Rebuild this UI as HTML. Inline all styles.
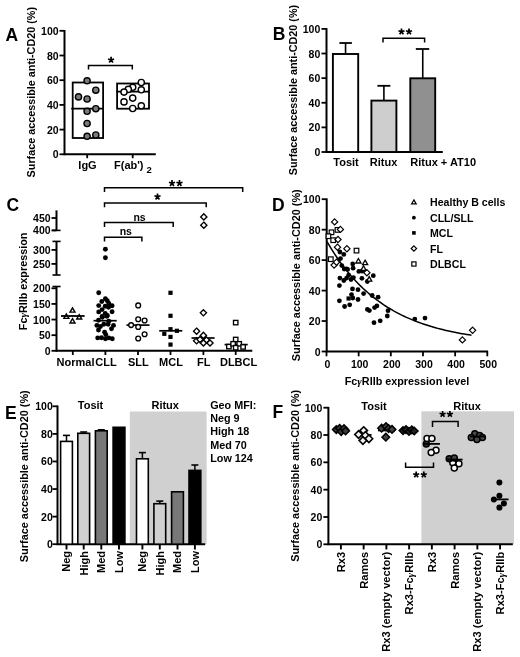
<!DOCTYPE html>
<html><head><meta charset="utf-8"><style>
html,body{margin:0;padding:0;background:#fff;}
svg{display:block;font-family:"Liberation Sans", sans-serif;will-change:transform;filter:blur(0.3px);}
</style></head><body>
<svg width="520" height="657" viewBox="0 0 520 657">
<rect width="520" height="657" fill="#fff"/>
<line x1="64.50" y1="30.00" x2="64.50" y2="155.10" stroke="#000" stroke-width="2.0"/>
<line x1="63.70" y1="154.30" x2="155.80" y2="154.30" stroke="#000" stroke-width="2.0"/>
<line x1="59.50" y1="154.30" x2="64.50" y2="154.30" stroke="#000" stroke-width="1.8"/>
<text x="58.60" y="158.30" font-size="10.5" font-weight="bold" text-anchor="end" >0</text>
<line x1="59.50" y1="129.60" x2="64.50" y2="129.60" stroke="#000" stroke-width="1.8"/>
<text x="58.60" y="133.60" font-size="10.5" font-weight="bold" text-anchor="end" >20</text>
<line x1="59.50" y1="104.90" x2="64.50" y2="104.90" stroke="#000" stroke-width="1.8"/>
<text x="58.60" y="108.90" font-size="10.5" font-weight="bold" text-anchor="end" >40</text>
<line x1="59.50" y1="80.20" x2="64.50" y2="80.20" stroke="#000" stroke-width="1.8"/>
<text x="58.60" y="84.20" font-size="10.5" font-weight="bold" text-anchor="end" >60</text>
<line x1="59.50" y1="55.50" x2="64.50" y2="55.50" stroke="#000" stroke-width="1.8"/>
<text x="58.60" y="59.50" font-size="10.5" font-weight="bold" text-anchor="end" >80</text>
<line x1="59.50" y1="30.80" x2="64.50" y2="30.80" stroke="#000" stroke-width="1.8"/>
<text x="58.60" y="34.80" font-size="10.5" font-weight="bold" text-anchor="end" >100</text>
<line x1="87.20" y1="154.30" x2="87.20" y2="158.20" stroke="#000" stroke-width="1.8"/>
<line x1="132.70" y1="154.30" x2="132.70" y2="158.20" stroke="#000" stroke-width="1.8"/>
<text x="87.50" y="169.00" font-size="11" font-weight="bold" text-anchor="middle" >IgG</text>
<text x="114.00" y="169.00" font-size="11" font-weight="bold" text-anchor="start" >F(ab')</text>
<text x="146.40" y="173.40" font-size="9.5" font-weight="bold" text-anchor="start" >2</text>
<text x="5.60" y="40.90" font-size="17.5" font-weight="bold" text-anchor="start" >A</text>
<text transform="translate(35.40,92.20) rotate(-90)" font-size="10.8" font-weight="bold" text-anchor="middle" >Surface accessible anti-CD20 (%)</text>
<rect x="72.70" y="82.50" width="30.40" height="55.50" fill="none" stroke="#000" stroke-width="1.8"/>
<line x1="71.20" y1="108.70" x2="103.10" y2="108.70" stroke="#000" stroke-width="1.7"/>
<rect x="117.10" y="83.50" width="31.90" height="25.20" fill="none" stroke="#000" stroke-width="1.8"/>
<line x1="116.50" y1="91.70" x2="149.50" y2="91.70" stroke="#000" stroke-width="1.7"/>
<circle cx="87.10" cy="80.80" r="3.1" fill="#7a7a7a" stroke="#000" stroke-width="1.4"/>
<circle cx="95.80" cy="90.20" r="3.1" fill="#7a7a7a" stroke="#000" stroke-width="1.4"/>
<circle cx="78.50" cy="96.90" r="3.1" fill="#7a7a7a" stroke="#000" stroke-width="1.4"/>
<circle cx="87.10" cy="99.00" r="3.1" fill="#7a7a7a" stroke="#000" stroke-width="1.4"/>
<circle cx="95.80" cy="108.70" r="3.1" fill="#7a7a7a" stroke="#000" stroke-width="1.4"/>
<circle cx="87.10" cy="111.30" r="3.1" fill="#7a7a7a" stroke="#000" stroke-width="1.4"/>
<circle cx="87.10" cy="123.50" r="3.1" fill="#7a7a7a" stroke="#000" stroke-width="1.4"/>
<circle cx="87.10" cy="136.30" r="3.1" fill="#7a7a7a" stroke="#000" stroke-width="1.4"/>
<circle cx="95.80" cy="135.00" r="3.1" fill="#7a7a7a" stroke="#000" stroke-width="1.4"/>
<circle cx="141.30" cy="82.50" r="3.1" fill="#fff" stroke="#000" stroke-width="1.4"/>
<circle cx="132.70" cy="87.30" r="3.1" fill="#fff" stroke="#000" stroke-width="1.4"/>
<circle cx="128.30" cy="89.40" r="3.1" fill="#fff" stroke="#000" stroke-width="1.4"/>
<circle cx="141.30" cy="89.80" r="3.1" fill="#fff" stroke="#000" stroke-width="1.4"/>
<circle cx="124.00" cy="92.10" r="3.1" fill="#fff" stroke="#000" stroke-width="1.4"/>
<circle cx="132.70" cy="98.10" r="3.1" fill="#fff" stroke="#000" stroke-width="1.4"/>
<circle cx="124.00" cy="101.90" r="3.1" fill="#fff" stroke="#000" stroke-width="1.4"/>
<circle cx="132.70" cy="108.50" r="3.1" fill="#fff" stroke="#000" stroke-width="1.4"/>
<circle cx="141.30" cy="105.80" r="3.1" fill="#fff" stroke="#000" stroke-width="1.4"/>
<polyline points="88.5,69.6 88.5,65.4 132.3,65.4 132.3,69.6" fill="none" stroke="#000" stroke-width="1.5"/>
<path d="M111.10,60.00L111.10,56.80M111.10,60.00L114.14,59.01M111.10,60.00L112.98,62.59M111.10,60.00L109.22,62.59M111.10,60.00L108.06,59.01" stroke="#000" stroke-width="1.7" stroke-linecap="butt" fill="none"/>
<line x1="326.50" y1="28.10" x2="326.50" y2="152.80" stroke="#000" stroke-width="2.0"/>
<line x1="325.70" y1="152.00" x2="442.80" y2="152.00" stroke="#000" stroke-width="2.0"/>
<line x1="321.50" y1="152.00" x2="326.50" y2="152.00" stroke="#000" stroke-width="1.8"/>
<text x="320.30" y="156.00" font-size="10.5" font-weight="bold" text-anchor="end" >0</text>
<line x1="321.50" y1="127.38" x2="326.50" y2="127.38" stroke="#000" stroke-width="1.8"/>
<text x="320.30" y="131.38" font-size="10.5" font-weight="bold" text-anchor="end" >20</text>
<line x1="321.50" y1="102.76" x2="326.50" y2="102.76" stroke="#000" stroke-width="1.8"/>
<text x="320.30" y="106.76" font-size="10.5" font-weight="bold" text-anchor="end" >40</text>
<line x1="321.50" y1="78.14" x2="326.50" y2="78.14" stroke="#000" stroke-width="1.8"/>
<text x="320.30" y="82.14" font-size="10.5" font-weight="bold" text-anchor="end" >60</text>
<line x1="321.50" y1="53.52" x2="326.50" y2="53.52" stroke="#000" stroke-width="1.8"/>
<text x="320.30" y="57.52" font-size="10.5" font-weight="bold" text-anchor="end" >80</text>
<line x1="321.50" y1="28.90" x2="326.50" y2="28.90" stroke="#000" stroke-width="1.8"/>
<text x="320.30" y="32.90" font-size="10.5" font-weight="bold" text-anchor="end" >100</text>
<text x="272.70" y="39.90" font-size="17.5" font-weight="bold" text-anchor="start" >B</text>
<text transform="translate(296.60,90.10) rotate(-90)" font-size="10.8" font-weight="bold" text-anchor="middle" >Surface accessible anti-CD20 (%)</text>
<line x1="345.55" y1="54.00" x2="345.55" y2="43.00" stroke="#000" stroke-width="1.6"/>
<line x1="339.40" y1="43.00" x2="351.90" y2="43.00" stroke="#000" stroke-width="1.8"/>
<rect x="332.90" y="54.00" width="25.30" height="98.00" fill="#fff" stroke="#000" stroke-width="1.9"/>
<line x1="383.90" y1="100.60" x2="383.90" y2="85.80" stroke="#000" stroke-width="1.6"/>
<line x1="377.40" y1="85.80" x2="390.40" y2="85.80" stroke="#000" stroke-width="1.8"/>
<rect x="371.40" y="100.60" width="25.00" height="51.40" fill="#cecece" stroke="#000" stroke-width="1.9"/>
<line x1="422.75" y1="78.30" x2="422.75" y2="49.00" stroke="#000" stroke-width="1.6"/>
<line x1="415.80" y1="49.00" x2="429.20" y2="49.00" stroke="#000" stroke-width="1.8"/>
<rect x="410.30" y="78.30" width="24.90" height="73.70" fill="#909090" stroke="#000" stroke-width="1.9"/>
<text x="346.00" y="165.50" font-size="11" font-weight="bold" text-anchor="middle" >Tosit</text>
<text x="383.60" y="165.50" font-size="11" font-weight="bold" text-anchor="middle" >Ritux</text>
<text x="410.30" y="165.50" font-size="11" font-weight="bold" text-anchor="start" >Ritux + AT10</text>
<polyline points="383,42.5 383,38.3 424.6,38.3 424.6,42.5" fill="none" stroke="#000" stroke-width="1.5"/>
<path d="M401.50,31.70L401.50,28.50M401.50,31.70L404.54,30.71M401.50,31.70L403.38,34.29M401.50,31.70L399.62,34.29M401.50,31.70L398.46,30.71" stroke="#000" stroke-width="1.7" stroke-linecap="butt" fill="none"/>
<path d="M409.00,31.70L409.00,28.50M409.00,31.70L412.04,30.71M409.00,31.70L410.88,34.29M409.00,31.70L407.12,34.29M409.00,31.70L405.96,30.71" stroke="#000" stroke-width="1.7" stroke-linecap="butt" fill="none"/>
<text x="6.50" y="210.80" font-size="17.5" font-weight="bold" text-anchor="start" >C</text>
<line x1="56.50" y1="210.40" x2="56.50" y2="230.40" stroke="#000" stroke-width="2.0"/>
<line x1="52.20" y1="230.40" x2="60.60" y2="230.40" stroke="#000" stroke-width="1.6"/>
<line x1="56.50" y1="241.40" x2="56.50" y2="275.00" stroke="#000" stroke-width="2.0"/>
<line x1="52.50" y1="241.40" x2="60.60" y2="241.40" stroke="#000" stroke-width="1.6"/>
<line x1="52.50" y1="275.00" x2="60.60" y2="275.00" stroke="#000" stroke-width="1.6"/>
<line x1="56.50" y1="286.50" x2="56.50" y2="351.60" stroke="#000" stroke-width="2.0"/>
<line x1="52.50" y1="286.50" x2="60.60" y2="286.50" stroke="#000" stroke-width="1.6"/>
<line x1="55.70" y1="350.80" x2="252.30" y2="350.80" stroke="#000" stroke-width="2.0"/>
<line x1="51.50" y1="350.80" x2="56.50" y2="350.80" stroke="#000" stroke-width="1.8"/>
<text x="50.60" y="354.80" font-size="10.5" font-weight="bold" text-anchor="end" >0</text>
<line x1="51.50" y1="335.18" x2="56.50" y2="335.18" stroke="#000" stroke-width="1.8"/>
<text x="50.60" y="339.18" font-size="10.5" font-weight="bold" text-anchor="end" >50</text>
<line x1="51.50" y1="319.55" x2="56.50" y2="319.55" stroke="#000" stroke-width="1.8"/>
<text x="50.60" y="323.55" font-size="10.5" font-weight="bold" text-anchor="end" >100</text>
<line x1="51.50" y1="303.93" x2="56.50" y2="303.93" stroke="#000" stroke-width="1.8"/>
<text x="50.60" y="307.93" font-size="10.5" font-weight="bold" text-anchor="end" >150</text>
<line x1="51.50" y1="288.30" x2="56.50" y2="288.30" stroke="#000" stroke-width="1.8"/>
<text x="50.60" y="292.30" font-size="10.5" font-weight="bold" text-anchor="end" >200</text>
<line x1="51.50" y1="263.90" x2="56.50" y2="263.90" stroke="#000" stroke-width="1.8"/>
<text x="50.60" y="267.90" font-size="10.5" font-weight="bold" text-anchor="end" >250</text>
<line x1="51.50" y1="249.90" x2="56.50" y2="249.90" stroke="#000" stroke-width="1.8"/>
<text x="50.60" y="253.90" font-size="10.5" font-weight="bold" text-anchor="end" >300</text>
<line x1="51.50" y1="230.40" x2="56.50" y2="230.40" stroke="#000" stroke-width="1.8"/>
<text x="50.60" y="234.40" font-size="10.5" font-weight="bold" text-anchor="end" >400</text>
<line x1="51.50" y1="218.00" x2="56.50" y2="218.00" stroke="#000" stroke-width="1.8"/>
<text x="50.60" y="222.00" font-size="10.5" font-weight="bold" text-anchor="end" >450</text>
<text transform="translate(26.80,281.40) rotate(-90)" font-size="10.8" font-weight="bold" text-anchor="middle" >Fc<tspan font-family="Liberation Serif" font-style="italic">&#947;</tspan>RIIb expression</text>
<line x1="72.80" y1="350.80" x2="72.80" y2="355.00" stroke="#000" stroke-width="1.8"/>
<line x1="105.40" y1="350.80" x2="105.40" y2="355.00" stroke="#000" stroke-width="1.8"/>
<line x1="138.00" y1="350.80" x2="138.00" y2="355.00" stroke="#000" stroke-width="1.8"/>
<line x1="170.50" y1="350.80" x2="170.50" y2="355.00" stroke="#000" stroke-width="1.8"/>
<line x1="203.40" y1="350.80" x2="203.40" y2="355.00" stroke="#000" stroke-width="1.8"/>
<line x1="235.70" y1="350.80" x2="235.70" y2="355.00" stroke="#000" stroke-width="1.8"/>
<text x="75.50" y="365.80" font-size="11" font-weight="bold" text-anchor="middle" >Normal</text>
<text x="106.00" y="365.80" font-size="11" font-weight="bold" text-anchor="middle" >CLL</text>
<text x="138.40" y="365.80" font-size="11" font-weight="bold" text-anchor="middle" >SLL</text>
<text x="171.00" y="365.80" font-size="11" font-weight="bold" text-anchor="middle" >MCL</text>
<text x="203.80" y="365.80" font-size="11" font-weight="bold" text-anchor="middle" >FL</text>
<text x="238.60" y="365.80" font-size="11" font-weight="bold" text-anchor="middle" >DLBCL</text>
<polyline points="104.5,192.0 104.5,187.7 242.7,187.7 242.7,192.0" fill="none" stroke="#000" stroke-width="1.5"/>
<polyline points="104.5,207.20000000000002 104.5,202.9 206.2,202.9 206.2,207.20000000000002" fill="none" stroke="#000" stroke-width="1.5"/>
<polyline points="104.5,226.9 104.5,222.6 173.2,222.6 173.2,226.9" fill="none" stroke="#000" stroke-width="1.5"/>
<polyline points="104.5,241.5 104.5,237.2 141.9,237.2 141.9,241.5" fill="none" stroke="#000" stroke-width="1.5"/>
<path d="M172.00,183.30L172.00,180.10M172.00,183.30L175.04,182.31M172.00,183.30L173.88,185.89M172.00,183.30L170.12,185.89M172.00,183.30L168.96,182.31" stroke="#000" stroke-width="1.7" stroke-linecap="butt" fill="none"/>
<path d="M179.50,183.30L179.50,180.10M179.50,183.30L182.54,182.31M179.50,183.30L181.38,185.89M179.50,183.30L177.62,185.89M179.50,183.30L176.46,182.31" stroke="#000" stroke-width="1.7" stroke-linecap="butt" fill="none"/>
<path d="M157.50,196.80L157.50,193.60M157.50,196.80L160.54,195.81M157.50,196.80L159.38,199.39M157.50,196.80L155.62,199.39M157.50,196.80L154.46,195.81" stroke="#000" stroke-width="1.7" stroke-linecap="butt" fill="none"/>
<text x="139.60" y="220.80" font-size="10.5" font-weight="bold" text-anchor="middle" >ns</text>
<text x="125.80" y="234.80" font-size="10.5" font-weight="bold" text-anchor="middle" >ns</text>
<line x1="61.00" y1="316.00" x2="84.60" y2="316.00" stroke="#000" stroke-width="1.8"/>
<polygon points="72.50,307.79 75.00,312.14 70.00,312.14" fill="none" stroke="#000" stroke-width="1.4" stroke-linejoin="miter"/>
<polygon points="66.40,313.99 68.90,318.34 63.90,318.34" fill="none" stroke="#000" stroke-width="1.4" stroke-linejoin="miter"/>
<polygon points="79.20,314.59 81.70,318.94 76.70,318.94" fill="none" stroke="#000" stroke-width="1.4" stroke-linejoin="miter"/>
<polygon points="72.50,318.59 75.00,322.94 70.00,322.94" fill="none" stroke="#000" stroke-width="1.4" stroke-linejoin="miter"/>
<circle cx="105.40" cy="249.20" r="2.45" fill="#000" stroke="none" stroke-width="1.0"/>
<circle cx="105.40" cy="257.70" r="2.45" fill="#000" stroke="none" stroke-width="1.0"/>
<circle cx="98.70" cy="292.70" r="2.45" fill="#000" stroke="none" stroke-width="1.0"/>
<circle cx="105.40" cy="298.80" r="2.45" fill="#000" stroke="none" stroke-width="1.0"/>
<circle cx="101.80" cy="301.50" r="2.45" fill="#000" stroke="none" stroke-width="1.0"/>
<circle cx="107.30" cy="300.80" r="2.45" fill="#000" stroke="none" stroke-width="1.0"/>
<circle cx="108.80" cy="303.50" r="2.45" fill="#000" stroke="none" stroke-width="1.0"/>
<circle cx="98.70" cy="305.60" r="2.45" fill="#000" stroke="none" stroke-width="1.0"/>
<circle cx="105.20" cy="306.20" r="2.45" fill="#000" stroke="none" stroke-width="1.0"/>
<circle cx="112.10" cy="305.80" r="2.45" fill="#000" stroke="none" stroke-width="1.0"/>
<circle cx="108.50" cy="307.30" r="2.45" fill="#000" stroke="none" stroke-width="1.0"/>
<circle cx="102.10" cy="309.60" r="2.45" fill="#000" stroke="none" stroke-width="1.0"/>
<circle cx="98.70" cy="311.90" r="2.45" fill="#000" stroke="none" stroke-width="1.0"/>
<circle cx="112.10" cy="311.80" r="2.45" fill="#000" stroke="none" stroke-width="1.0"/>
<circle cx="105.20" cy="313.50" r="2.45" fill="#000" stroke="none" stroke-width="1.0"/>
<circle cx="107.30" cy="315.40" r="2.45" fill="#000" stroke="none" stroke-width="1.0"/>
<circle cx="102.10" cy="316.50" r="2.45" fill="#000" stroke="none" stroke-width="1.0"/>
<circle cx="98.50" cy="320.20" r="2.45" fill="#000" stroke="none" stroke-width="1.0"/>
<circle cx="102.30" cy="317.30" r="2.45" fill="#000" stroke="none" stroke-width="1.0"/>
<circle cx="106.90" cy="316.20" r="2.45" fill="#000" stroke="none" stroke-width="1.0"/>
<circle cx="108.80" cy="321.20" r="2.45" fill="#000" stroke="none" stroke-width="1.0"/>
<circle cx="96.90" cy="325.40" r="2.45" fill="#000" stroke="none" stroke-width="1.0"/>
<circle cx="100.40" cy="326.50" r="2.45" fill="#000" stroke="none" stroke-width="1.0"/>
<circle cx="103.80" cy="324.20" r="2.45" fill="#000" stroke="none" stroke-width="1.0"/>
<circle cx="108.10" cy="324.20" r="2.45" fill="#000" stroke="none" stroke-width="1.0"/>
<circle cx="113.50" cy="325.40" r="2.45" fill="#000" stroke="none" stroke-width="1.0"/>
<circle cx="111.50" cy="328.80" r="2.45" fill="#000" stroke="none" stroke-width="1.0"/>
<circle cx="98.50" cy="330.00" r="2.45" fill="#000" stroke="none" stroke-width="1.0"/>
<circle cx="104.60" cy="332.30" r="2.45" fill="#000" stroke="none" stroke-width="1.0"/>
<circle cx="105.80" cy="334.60" r="2.45" fill="#000" stroke="none" stroke-width="1.0"/>
<circle cx="97.70" cy="337.90" r="2.45" fill="#000" stroke="none" stroke-width="1.0"/>
<circle cx="101.50" cy="337.70" r="2.45" fill="#000" stroke="none" stroke-width="1.0"/>
<circle cx="105.40" cy="338.80" r="2.45" fill="#000" stroke="none" stroke-width="1.0"/>
<circle cx="108.80" cy="337.90" r="2.45" fill="#000" stroke="none" stroke-width="1.0"/>
<circle cx="112.30" cy="338.80" r="2.45" fill="#000" stroke="none" stroke-width="1.0"/>
<line x1="93.50" y1="320.70" x2="116.70" y2="320.70" stroke="#000" stroke-width="1.7"/>
<line x1="126.50" y1="325.10" x2="149.50" y2="325.10" stroke="#000" stroke-width="1.7"/>
<circle cx="138.20" cy="305.40" r="2.4" fill="#fff" stroke="#000" stroke-width="1.35"/>
<circle cx="138.20" cy="319.20" r="2.4" fill="#fff" stroke="#000" stroke-width="1.35"/>
<circle cx="144.60" cy="320.50" r="2.4" fill="#fff" stroke="#000" stroke-width="1.35"/>
<circle cx="138.20" cy="326.90" r="2.4" fill="#fff" stroke="#000" stroke-width="1.35"/>
<circle cx="131.10" cy="325.10" r="2.4" fill="#fff" stroke="#000" stroke-width="1.35"/>
<circle cx="144.60" cy="334.30" r="2.4" fill="#fff" stroke="#000" stroke-width="1.35"/>
<circle cx="138.20" cy="338.50" r="2.4" fill="#fff" stroke="#000" stroke-width="1.35"/>
<line x1="159.20" y1="330.80" x2="182.30" y2="330.80" stroke="#000" stroke-width="1.7"/>
<rect x="168.40" y="290.70" width="4.2" height="4.2" fill="#000" stroke="none" stroke-width="1.1"/>
<rect x="168.40" y="313.70" width="4.2" height="4.2" fill="#000" stroke="none" stroke-width="1.1"/>
<rect x="168.40" y="327.10" width="4.2" height="4.2" fill="#000" stroke="none" stroke-width="1.1"/>
<rect x="162.20" y="331.70" width="4.2" height="4.2" fill="#000" stroke="none" stroke-width="1.1"/>
<rect x="174.80" y="328.70" width="4.2" height="4.2" fill="#000" stroke="none" stroke-width="1.1"/>
<rect x="168.40" y="334.80" width="4.2" height="4.2" fill="#000" stroke="none" stroke-width="1.1"/>
<rect x="168.40" y="342.50" width="4.2" height="4.2" fill="#000" stroke="none" stroke-width="1.1"/>
<line x1="191.50" y1="338.00" x2="214.60" y2="338.00" stroke="#000" stroke-width="1.7"/>
<polygon points="203.80,213.80 206.90,216.90 203.80,220.00 200.70,216.90" fill="#fff" stroke="#000" stroke-width="1.35"/>
<polygon points="203.80,222.10 206.90,225.20 203.80,228.30 200.70,225.20" fill="#fff" stroke="#000" stroke-width="1.35"/>
<polygon points="203.40,309.70 206.50,312.80 203.40,315.90 200.30,312.80" fill="#fff" stroke="#000" stroke-width="1.35"/>
<polygon points="196.60,328.10 199.70,331.20 196.60,334.30 193.50,331.20" fill="#fff" stroke="#000" stroke-width="1.35"/>
<polygon points="203.40,332.30 206.50,335.40 203.40,338.50 200.30,335.40" fill="#fff" stroke="#000" stroke-width="1.35"/>
<polygon points="196.60,337.70 199.70,340.80 196.60,343.90 193.50,340.80" fill="#fff" stroke="#000" stroke-width="1.35"/>
<polygon points="200.00,336.40 203.10,339.50 200.00,342.60 196.90,339.50" fill="#fff" stroke="#000" stroke-width="1.35"/>
<polygon points="206.50,336.90 209.60,340.00 206.50,343.10 203.40,340.00" fill="#fff" stroke="#000" stroke-width="1.35"/>
<polygon points="203.40,339.90 206.50,343.00 203.40,346.10 200.30,343.00" fill="#fff" stroke="#000" stroke-width="1.35"/>
<polygon points="210.00,339.90 213.10,343.00 210.00,346.10 206.90,343.00" fill="#fff" stroke="#000" stroke-width="1.35"/>
<line x1="224.60" y1="344.60" x2="247.70" y2="344.60" stroke="#000" stroke-width="1.7"/>
<rect x="233.50" y="320.40" width="4.4" height="4.4" fill="#fff" stroke="#000" stroke-width="1.35"/>
<rect x="233.50" y="337.30" width="4.4" height="4.4" fill="#fff" stroke="#000" stroke-width="1.35"/>
<rect x="226.70" y="344.40" width="4.4" height="4.4" fill="#fff" stroke="#000" stroke-width="1.35"/>
<rect x="230.90" y="341.60" width="4.4" height="4.4" fill="#fff" stroke="#000" stroke-width="1.35"/>
<rect x="237.00" y="341.60" width="4.4" height="4.4" fill="#fff" stroke="#000" stroke-width="1.35"/>
<rect x="240.90" y="344.70" width="4.4" height="4.4" fill="#fff" stroke="#000" stroke-width="1.35"/>
<rect x="233.50" y="345.50" width="4.4" height="4.4" fill="#fff" stroke="#000" stroke-width="1.35"/>
<line x1="326.70" y1="198.40" x2="326.70" y2="352.30" stroke="#000" stroke-width="2.0"/>
<line x1="325.90" y1="351.50" x2="488.10" y2="351.50" stroke="#000" stroke-width="2.0"/>
<line x1="321.70" y1="351.50" x2="326.70" y2="351.50" stroke="#000" stroke-width="1.8"/>
<text x="320.50" y="355.50" font-size="10.5" font-weight="bold" text-anchor="end" >0</text>
<line x1="321.70" y1="321.04" x2="326.70" y2="321.04" stroke="#000" stroke-width="1.8"/>
<text x="320.50" y="325.04" font-size="10.5" font-weight="bold" text-anchor="end" >20</text>
<line x1="321.70" y1="290.58" x2="326.70" y2="290.58" stroke="#000" stroke-width="1.8"/>
<text x="320.50" y="294.58" font-size="10.5" font-weight="bold" text-anchor="end" >40</text>
<line x1="321.70" y1="260.12" x2="326.70" y2="260.12" stroke="#000" stroke-width="1.8"/>
<text x="320.50" y="264.12" font-size="10.5" font-weight="bold" text-anchor="end" >60</text>
<line x1="321.70" y1="229.66" x2="326.70" y2="229.66" stroke="#000" stroke-width="1.8"/>
<text x="320.50" y="233.66" font-size="10.5" font-weight="bold" text-anchor="end" >80</text>
<line x1="321.70" y1="199.20" x2="326.70" y2="199.20" stroke="#000" stroke-width="1.8"/>
<text x="320.50" y="203.20" font-size="10.5" font-weight="bold" text-anchor="end" >100</text>
<line x1="326.50" y1="351.50" x2="326.50" y2="356.30" stroke="#000" stroke-width="1.8"/>
<text x="327.50" y="368.00" font-size="10.5" font-weight="bold" text-anchor="middle" >0</text>
<line x1="358.66" y1="351.50" x2="358.66" y2="356.30" stroke="#000" stroke-width="1.8"/>
<text x="359.66" y="368.00" font-size="10.5" font-weight="bold" text-anchor="middle" >100</text>
<line x1="390.82" y1="351.50" x2="390.82" y2="356.30" stroke="#000" stroke-width="1.8"/>
<text x="391.82" y="368.00" font-size="10.5" font-weight="bold" text-anchor="middle" >200</text>
<line x1="422.98" y1="351.50" x2="422.98" y2="356.30" stroke="#000" stroke-width="1.8"/>
<text x="423.98" y="368.00" font-size="10.5" font-weight="bold" text-anchor="middle" >300</text>
<line x1="455.14" y1="351.50" x2="455.14" y2="356.30" stroke="#000" stroke-width="1.8"/>
<text x="456.14" y="368.00" font-size="10.5" font-weight="bold" text-anchor="middle" >400</text>
<line x1="487.30" y1="351.50" x2="487.30" y2="356.30" stroke="#000" stroke-width="1.8"/>
<text x="488.30" y="368.00" font-size="10.5" font-weight="bold" text-anchor="middle" >500</text>
<text x="407.00" y="384.80" font-size="10.8" font-weight="bold" text-anchor="middle" >Fc<tspan font-family="Liberation Serif" font-style="italic">&#947;</tspan>RIIb expression level</text>
<text x="272.10" y="210.80" font-size="17.5" font-weight="bold" text-anchor="start" >D</text>
<text transform="translate(299.50,275.20) rotate(-90)" font-size="10.9" font-weight="bold" text-anchor="middle" >Surface accessible anti-CD20 (%)</text>
<polygon points="413.90,199.90 416.20,203.90 411.60,203.90" fill="none" stroke="#000" stroke-width="1.2" stroke-linejoin="miter"/>
<circle cx="413.90" cy="217.70" r="1.9" fill="#000" stroke="none" stroke-width="1.0"/>
<rect x="412.10" y="231.10" width="3.6" height="3.6" fill="#000" stroke="none" stroke-width="1.1"/>
<polygon points="413.90,245.80 416.60,248.50 413.90,251.20 411.20,248.50" fill="#fff" stroke="#000" stroke-width="1.2"/>
<rect x="411.80" y="261.90" width="4.2" height="4.2" fill="#fff" stroke="#000" stroke-width="1.2"/>
<text x="430.00" y="206.00" font-size="10.6" font-weight="bold" text-anchor="start" >Healthy B cells</text>
<text x="430.00" y="221.70" font-size="10.6" font-weight="bold" text-anchor="start" >CLL/SLL</text>
<text x="430.00" y="236.90" font-size="10.6" font-weight="bold" text-anchor="start" >MCL</text>
<text x="430.00" y="252.50" font-size="10.6" font-weight="bold" text-anchor="start" >FL</text>
<text x="430.00" y="268.00" font-size="10.6" font-weight="bold" text-anchor="start" >DLBCL</text>
<polyline points="327.00,241.66 329.41,245.74 331.82,249.66 334.23,253.42 336.63,257.03 339.04,260.50 341.45,263.83 343.86,267.03 346.27,270.10 348.68,273.04 351.08,275.87 353.49,278.59 355.90,281.20 358.31,283.71 360.72,286.12 363.12,288.43 365.53,290.65 367.94,292.78 370.35,294.82 372.76,296.79 375.17,298.67 377.57,300.48 379.98,302.22 382.39,303.89 384.80,305.50 387.21,307.03 389.62,308.51 392.02,309.93 394.43,311.30 396.84,312.60 399.25,313.86 401.66,315.07 404.07,316.23 406.48,317.34 408.88,318.41 411.29,319.43 413.70,320.42 416.11,321.36 418.52,322.27 420.93,323.14 423.33,323.98 425.74,324.79 428.15,325.56 430.56,326.30 432.97,327.01 435.38,327.69 437.78,328.35 440.19,328.98 442.60,329.59 445.01,330.17 447.42,330.73 449.82,331.26 452.23,331.78 454.64,332.27 457.05,332.74 459.46,333.20 461.87,333.64 464.27,334.06 466.68,334.46 469.09,334.85 471.50,335.22" fill="none" stroke="#000" stroke-width="1.5"/>
<circle cx="339.90" cy="252.00" r="2.4" fill="#000" stroke="none" stroke-width="1.0"/>
<circle cx="343.80" cy="254.40" r="2.4" fill="#000" stroke="none" stroke-width="1.0"/>
<circle cx="340.50" cy="258.60" r="2.4" fill="#000" stroke="none" stroke-width="1.0"/>
<circle cx="341.80" cy="265.60" r="2.4" fill="#000" stroke="none" stroke-width="1.0"/>
<circle cx="344.20" cy="269.00" r="2.4" fill="#000" stroke="none" stroke-width="1.0"/>
<circle cx="347.60" cy="269.40" r="2.4" fill="#000" stroke="none" stroke-width="1.0"/>
<circle cx="348.60" cy="275.20" r="2.4" fill="#000" stroke="none" stroke-width="1.0"/>
<circle cx="339.90" cy="278.10" r="2.4" fill="#000" stroke="none" stroke-width="1.0"/>
<circle cx="343.80" cy="280.50" r="2.4" fill="#000" stroke="none" stroke-width="1.0"/>
<circle cx="346.60" cy="278.10" r="2.4" fill="#000" stroke="none" stroke-width="1.0"/>
<circle cx="351.00" cy="279.50" r="2.4" fill="#000" stroke="none" stroke-width="1.0"/>
<circle cx="353.40" cy="277.60" r="2.4" fill="#000" stroke="none" stroke-width="1.0"/>
<circle cx="339.40" cy="285.60" r="2.4" fill="#000" stroke="none" stroke-width="1.0"/>
<circle cx="352.70" cy="263.90" r="2.4" fill="#000" stroke="none" stroke-width="1.0"/>
<circle cx="353.10" cy="268.20" r="2.4" fill="#000" stroke="none" stroke-width="1.0"/>
<circle cx="358.80" cy="271.40" r="2.4" fill="#000" stroke="none" stroke-width="1.0"/>
<circle cx="362.20" cy="271.20" r="2.4" fill="#000" stroke="none" stroke-width="1.0"/>
<circle cx="361.90" cy="278.30" r="2.4" fill="#000" stroke="none" stroke-width="1.0"/>
<circle cx="373.30" cy="275.70" r="2.4" fill="#000" stroke="none" stroke-width="1.0"/>
<circle cx="367.30" cy="281.50" r="2.4" fill="#000" stroke="none" stroke-width="1.0"/>
<circle cx="352.50" cy="288.90" r="2.4" fill="#000" stroke="none" stroke-width="1.0"/>
<circle cx="358.00" cy="289.70" r="2.4" fill="#000" stroke="none" stroke-width="1.0"/>
<circle cx="363.60" cy="293.60" r="2.4" fill="#000" stroke="none" stroke-width="1.0"/>
<circle cx="351.50" cy="294.60" r="2.4" fill="#000" stroke="none" stroke-width="1.0"/>
<circle cx="352.80" cy="298.00" r="2.4" fill="#000" stroke="none" stroke-width="1.0"/>
<circle cx="358.00" cy="299.50" r="2.4" fill="#000" stroke="none" stroke-width="1.0"/>
<circle cx="339.40" cy="300.80" r="2.4" fill="#000" stroke="none" stroke-width="1.0"/>
<circle cx="372.20" cy="295.50" r="2.4" fill="#000" stroke="none" stroke-width="1.0"/>
<circle cx="349.70" cy="304.80" r="2.4" fill="#000" stroke="none" stroke-width="1.0"/>
<circle cx="344.60" cy="306.50" r="2.4" fill="#000" stroke="none" stroke-width="1.0"/>
<circle cx="378.10" cy="297.20" r="2.4" fill="#000" stroke="none" stroke-width="1.0"/>
<circle cx="367.40" cy="309.40" r="2.4" fill="#000" stroke="none" stroke-width="1.0"/>
<circle cx="369.40" cy="310.60" r="2.4" fill="#000" stroke="none" stroke-width="1.0"/>
<circle cx="374.60" cy="307.60" r="2.4" fill="#000" stroke="none" stroke-width="1.0"/>
<circle cx="376.90" cy="305.90" r="2.4" fill="#000" stroke="none" stroke-width="1.0"/>
<circle cx="374.00" cy="322.70" r="2.4" fill="#000" stroke="none" stroke-width="1.0"/>
<circle cx="380.20" cy="320.80" r="2.4" fill="#000" stroke="none" stroke-width="1.0"/>
<circle cx="388.00" cy="310.70" r="2.4" fill="#000" stroke="none" stroke-width="1.0"/>
<circle cx="387.30" cy="316.00" r="2.4" fill="#000" stroke="none" stroke-width="1.0"/>
<circle cx="414.80" cy="319.10" r="2.4" fill="#000" stroke="none" stroke-width="1.0"/>
<circle cx="425.00" cy="318.10" r="2.4" fill="#000" stroke="none" stroke-width="1.0"/>
<circle cx="346.50" cy="268.80" r="2.4" fill="#000" stroke="none" stroke-width="1.0"/>
<rect x="346.50" y="296.40" width="4.2" height="4.2" fill="#000" stroke="none" stroke-width="1.1"/>
<rect x="329.20" y="230.00" width="4.6" height="4.6" fill="#fff" stroke="#000" stroke-width="1.2"/>
<rect x="335.20" y="227.60" width="4.6" height="4.6" fill="#fff" stroke="#000" stroke-width="1.2"/>
<rect x="326.10" y="233.90" width="4.6" height="4.6" fill="#fff" stroke="#000" stroke-width="1.2"/>
<rect x="330.90" y="237.90" width="4.6" height="4.6" fill="#fff" stroke="#000" stroke-width="1.2"/>
<rect x="354.20" y="248.30" width="4.6" height="4.6" fill="#fff" stroke="#000" stroke-width="1.2"/>
<rect x="328.50" y="256.90" width="4.6" height="4.6" fill="#fff" stroke="#000" stroke-width="1.2"/>
<polygon points="334.60,218.80 337.70,221.90 334.60,225.00 331.50,221.90" fill="#fff" stroke="#000" stroke-width="1.2"/>
<polygon points="340.40,226.30 343.50,229.40 340.40,232.50 337.30,229.40" fill="#fff" stroke="#000" stroke-width="1.2"/>
<polygon points="338.00,236.40 341.10,239.50 338.00,242.60 334.90,239.50" fill="#fff" stroke="#000" stroke-width="1.2"/>
<polygon points="337.50,244.10 340.60,247.20 337.50,250.30 334.40,247.20" fill="#fff" stroke="#000" stroke-width="1.2"/>
<polygon points="346.90,245.60 350.00,248.70 346.90,251.80 343.80,248.70" fill="#fff" stroke="#000" stroke-width="1.2"/>
<polygon points="334.10,262.00 337.20,265.10 334.10,268.20 331.00,265.10" fill="#fff" stroke="#000" stroke-width="1.2"/>
<polygon points="336.50,259.10 339.60,262.20 336.50,265.30 333.40,262.20" fill="#fff" stroke="#000" stroke-width="1.2"/>
<polygon points="366.90,269.60 370.00,272.70 366.90,275.80 363.80,272.70" fill="#fff" stroke="#000" stroke-width="1.2"/>
<polygon points="462.40,336.80 465.50,339.90 462.40,343.00 459.30,339.90" fill="#fff" stroke="#000" stroke-width="1.2"/>
<polygon points="472.60,327.20 475.70,330.30 472.60,333.40 469.50,330.30" fill="#fff" stroke="#000" stroke-width="1.2"/>
<polygon points="358.40,258.49 361.00,263.01 355.80,263.01" fill="#fff" stroke="#000" stroke-width="1.3" stroke-linejoin="miter"/>
<polygon points="365.10,260.19 367.70,264.71 362.50,264.71" fill="#fff" stroke="#000" stroke-width="1.3" stroke-linejoin="miter"/>
<polygon points="363.50,265.79 366.10,270.31 360.90,270.31" fill="#fff" stroke="#000" stroke-width="1.3" stroke-linejoin="miter"/>
<polygon points="369.20,276.59 371.80,281.11 366.60,281.11" fill="#fff" stroke="#000" stroke-width="1.3" stroke-linejoin="miter"/>
<rect x="129.8" y="411.5" width="76.8" height="132.7" fill="#d0d0d0"/>
<line x1="57.50" y1="405.50" x2="57.50" y2="545.00" stroke="#000" stroke-width="2.0"/>
<line x1="56.70" y1="544.20" x2="205.20" y2="544.20" stroke="#000" stroke-width="2.0"/>
<line x1="52.50" y1="544.20" x2="57.50" y2="544.20" stroke="#000" stroke-width="1.8"/>
<text x="52.80" y="548.20" font-size="10.5" font-weight="bold" text-anchor="end" >0</text>
<line x1="52.50" y1="516.62" x2="57.50" y2="516.62" stroke="#000" stroke-width="1.8"/>
<text x="52.80" y="520.62" font-size="10.5" font-weight="bold" text-anchor="end" >20</text>
<line x1="52.50" y1="489.04" x2="57.50" y2="489.04" stroke="#000" stroke-width="1.8"/>
<text x="52.80" y="493.04" font-size="10.5" font-weight="bold" text-anchor="end" >40</text>
<line x1="52.50" y1="461.46" x2="57.50" y2="461.46" stroke="#000" stroke-width="1.8"/>
<text x="52.80" y="465.46" font-size="10.5" font-weight="bold" text-anchor="end" >60</text>
<line x1="52.50" y1="433.88" x2="57.50" y2="433.88" stroke="#000" stroke-width="1.8"/>
<text x="52.80" y="437.88" font-size="10.5" font-weight="bold" text-anchor="end" >80</text>
<line x1="52.50" y1="406.30" x2="57.50" y2="406.30" stroke="#000" stroke-width="1.8"/>
<text x="52.80" y="410.30" font-size="10.5" font-weight="bold" text-anchor="end" >100</text>
<text x="5.00" y="418.80" font-size="17.5" font-weight="bold" text-anchor="start" >E</text>
<text transform="translate(28.10,476.20) rotate(-90)" font-size="10.9" font-weight="bold" text-anchor="middle" >Surface accessible anti-CD20 (%)</text>
<line x1="66.50" y1="441.40" x2="66.50" y2="435.40" stroke="#000" stroke-width="1.5"/>
<line x1="63.00" y1="435.40" x2="70.00" y2="435.40" stroke="#000" stroke-width="1.6"/>
<rect x="60.60" y="441.40" width="11.80" height="102.80" fill="#fff" stroke="#000" stroke-width="1.6"/>
<line x1="83.70" y1="433.30" x2="83.70" y2="432.00" stroke="#000" stroke-width="1.5"/>
<line x1="80.20" y1="432.00" x2="87.20" y2="432.00" stroke="#000" stroke-width="1.6"/>
<rect x="77.80" y="433.30" width="11.80" height="110.90" fill="#d0d0d0" stroke="#000" stroke-width="1.6"/>
<line x1="101.30" y1="430.80" x2="101.30" y2="429.80" stroke="#000" stroke-width="1.5"/>
<line x1="97.80" y1="429.80" x2="104.80" y2="429.80" stroke="#000" stroke-width="1.6"/>
<rect x="95.40" y="430.80" width="11.80" height="113.40" fill="#787878" stroke="#000" stroke-width="1.6"/>
<rect x="113.10" y="427.30" width="11.80" height="116.90" fill="#000" stroke="#000" stroke-width="1.6"/>
<line x1="142.40" y1="458.80" x2="142.40" y2="452.60" stroke="#000" stroke-width="1.5"/>
<line x1="138.90" y1="452.60" x2="145.90" y2="452.60" stroke="#000" stroke-width="1.6"/>
<rect x="136.50" y="458.80" width="11.80" height="85.40" fill="#fff" stroke="#000" stroke-width="1.6"/>
<line x1="159.80" y1="503.70" x2="159.80" y2="501.10" stroke="#000" stroke-width="1.5"/>
<line x1="156.30" y1="501.10" x2="163.30" y2="501.10" stroke="#000" stroke-width="1.6"/>
<rect x="153.90" y="503.70" width="11.80" height="40.50" fill="#d0d0d0" stroke="#000" stroke-width="1.6"/>
<rect x="171.60" y="491.80" width="11.80" height="52.40" fill="#787878" stroke="#000" stroke-width="1.6"/>
<line x1="194.90" y1="470.40" x2="194.90" y2="465.00" stroke="#000" stroke-width="1.5"/>
<line x1="191.40" y1="465.00" x2="198.40" y2="465.00" stroke="#000" stroke-width="1.6"/>
<rect x="189.00" y="470.40" width="11.80" height="73.80" fill="#000" stroke="#000" stroke-width="1.6"/>
<line x1="66.50" y1="544.20" x2="66.50" y2="549.50" stroke="#000" stroke-width="1.9"/>
<line x1="83.70" y1="544.20" x2="83.70" y2="549.50" stroke="#000" stroke-width="1.9"/>
<line x1="101.30" y1="544.20" x2="101.30" y2="549.50" stroke="#000" stroke-width="1.9"/>
<line x1="119.00" y1="544.20" x2="119.00" y2="549.50" stroke="#000" stroke-width="1.9"/>
<line x1="142.40" y1="544.20" x2="142.40" y2="549.50" stroke="#000" stroke-width="1.9"/>
<line x1="159.80" y1="544.20" x2="159.80" y2="549.50" stroke="#000" stroke-width="1.9"/>
<line x1="177.50" y1="544.20" x2="177.50" y2="549.50" stroke="#000" stroke-width="1.9"/>
<line x1="194.90" y1="544.20" x2="194.90" y2="549.50" stroke="#000" stroke-width="1.9"/>
<text transform="translate(70.30,551.00) rotate(-90)" font-size="11" font-weight="bold" text-anchor="end" >Neg</text>
<text transform="translate(87.50,551.00) rotate(-90)" font-size="11" font-weight="bold" text-anchor="end" >High</text>
<text transform="translate(105.10,551.00) rotate(-90)" font-size="11" font-weight="bold" text-anchor="end" >Med</text>
<text transform="translate(122.80,551.00) rotate(-90)" font-size="11" font-weight="bold" text-anchor="end" >Low</text>
<text transform="translate(146.20,551.00) rotate(-90)" font-size="11" font-weight="bold" text-anchor="end" >Neg</text>
<text transform="translate(163.60,551.00) rotate(-90)" font-size="11" font-weight="bold" text-anchor="end" >High</text>
<text transform="translate(181.30,551.00) rotate(-90)" font-size="11" font-weight="bold" text-anchor="end" >Med</text>
<text transform="translate(198.70,551.00) rotate(-90)" font-size="11" font-weight="bold" text-anchor="end" >Low</text>
<text x="90.50" y="409.00" font-size="11" font-weight="bold" text-anchor="middle" >Tosit</text>
<text x="165.20" y="409.00" font-size="11" font-weight="bold" text-anchor="middle" >Ritux</text>
<text x="210.20" y="408.80" font-size="10.8" font-weight="bold" text-anchor="start" >Geo MFI:</text>
<text x="210.20" y="422.10" font-size="10.8" font-weight="bold" text-anchor="start" >Neg 9</text>
<text x="210.20" y="435.40" font-size="10.8" font-weight="bold" text-anchor="start" >High 18</text>
<text x="210.20" y="448.70" font-size="10.8" font-weight="bold" text-anchor="start" >Med 70</text>
<text x="210.20" y="462.00" font-size="10.8" font-weight="bold" text-anchor="start" >Low 124</text>
<rect x="421.4" y="411.3" width="92.6" height="133" fill="#d0d0d0"/>
<line x1="328.40" y1="406.90" x2="328.40" y2="545.10" stroke="#000" stroke-width="2.0"/>
<line x1="327.60" y1="544.30" x2="512.80" y2="544.30" stroke="#000" stroke-width="2.0"/>
<line x1="323.40" y1="544.30" x2="328.40" y2="544.30" stroke="#000" stroke-width="1.8"/>
<text x="322.30" y="548.30" font-size="10.5" font-weight="bold" text-anchor="end" >0</text>
<line x1="323.40" y1="516.98" x2="328.40" y2="516.98" stroke="#000" stroke-width="1.8"/>
<text x="322.30" y="520.98" font-size="10.5" font-weight="bold" text-anchor="end" >20</text>
<line x1="323.40" y1="489.66" x2="328.40" y2="489.66" stroke="#000" stroke-width="1.8"/>
<text x="322.30" y="493.66" font-size="10.5" font-weight="bold" text-anchor="end" >40</text>
<line x1="323.40" y1="462.34" x2="328.40" y2="462.34" stroke="#000" stroke-width="1.8"/>
<text x="322.30" y="466.34" font-size="10.5" font-weight="bold" text-anchor="end" >60</text>
<line x1="323.40" y1="435.02" x2="328.40" y2="435.02" stroke="#000" stroke-width="1.8"/>
<text x="322.30" y="439.02" font-size="10.5" font-weight="bold" text-anchor="end" >80</text>
<line x1="323.40" y1="407.70" x2="328.40" y2="407.70" stroke="#000" stroke-width="1.8"/>
<text x="322.30" y="411.70" font-size="10.5" font-weight="bold" text-anchor="end" >100</text>
<text x="272.40" y="417.90" font-size="17.5" font-weight="bold" text-anchor="start" >F</text>
<text transform="translate(299.20,475.90) rotate(-90)" font-size="10.9" font-weight="bold" text-anchor="middle" >Surface accessible anti-CD20 (%)</text>
<line x1="340.90" y1="544.30" x2="340.90" y2="549.40" stroke="#000" stroke-width="1.9"/>
<line x1="363.64" y1="544.30" x2="363.64" y2="549.40" stroke="#000" stroke-width="1.9"/>
<line x1="386.38" y1="544.30" x2="386.38" y2="549.40" stroke="#000" stroke-width="1.9"/>
<line x1="409.12" y1="544.30" x2="409.12" y2="549.40" stroke="#000" stroke-width="1.9"/>
<line x1="431.86" y1="544.30" x2="431.86" y2="549.40" stroke="#000" stroke-width="1.9"/>
<line x1="454.60" y1="544.30" x2="454.60" y2="549.40" stroke="#000" stroke-width="1.9"/>
<line x1="477.34" y1="544.30" x2="477.34" y2="549.40" stroke="#000" stroke-width="1.9"/>
<line x1="500.08" y1="544.30" x2="500.08" y2="549.40" stroke="#000" stroke-width="1.9"/>
<text transform="translate(344.80,551.80) rotate(-90)" font-size="11.1" font-weight="bold" text-anchor="end" >Rx3</text>
<text transform="translate(367.54,551.80) rotate(-90)" font-size="11.1" font-weight="bold" text-anchor="end" >Ramos</text>
<text transform="translate(390.28,551.80) rotate(-90)" font-size="11.1" font-weight="bold" text-anchor="end" >Rx3 (empty vector)</text>
<text transform="translate(413.02,551.80) rotate(-90)" font-size="11.1" font-weight="bold" text-anchor="end" >Rx3-Fc<tspan dy="1" font-family="Liberation Serif" font-style="italic">&#947;</tspan><tspan dy="-1">RIIb</tspan></text>
<text transform="translate(435.76,551.80) rotate(-90)" font-size="11.1" font-weight="bold" text-anchor="end" >Rx3</text>
<text transform="translate(458.50,551.80) rotate(-90)" font-size="11.1" font-weight="bold" text-anchor="end" >Ramos</text>
<text transform="translate(481.24,551.80) rotate(-90)" font-size="11.1" font-weight="bold" text-anchor="end" >Rx3 (empty vector)</text>
<text transform="translate(503.98,551.80) rotate(-90)" font-size="11.1" font-weight="bold" text-anchor="end" >Rx3-Fc<tspan dy="1" font-family="Liberation Serif" font-style="italic">&#947;</tspan><tspan dy="-1">RIIb</tspan></text>
<text x="374.00" y="409.80" font-size="11" font-weight="bold" text-anchor="middle" >Tosit</text>
<text x="467.10" y="410.20" font-size="11" font-weight="bold" text-anchor="middle" >Ritux</text>
<polyline points="432.5,426.9 432.5,421.5 458.1,421.5 458.1,426.9" fill="none" stroke="#000" stroke-width="1.5"/>
<path d="M442.60,414.20L442.60,411.00M442.60,414.20L445.64,413.21M442.60,414.20L444.48,416.79M442.60,414.20L440.72,416.79M442.60,414.20L439.56,413.21" stroke="#000" stroke-width="1.7" stroke-linecap="butt" fill="none"/>
<path d="M449.90,414.20L449.90,411.00M449.90,414.20L452.94,413.21M449.90,414.20L451.78,416.79M449.90,414.20L448.02,416.79M449.90,414.20L446.86,413.21" stroke="#000" stroke-width="1.7" stroke-linecap="butt" fill="none"/>
<polyline points="405.6,462.5 405.6,467.3 433.5,467.3 433.5,462.5" fill="none" stroke="#000" stroke-width="1.5"/>
<path d="M416.20,474.70L416.20,471.50M416.20,474.70L419.24,473.71M416.20,474.70L418.08,477.29M416.20,474.70L414.32,477.29M416.20,474.70L413.16,473.71" stroke="#000" stroke-width="1.7" stroke-linecap="butt" fill="none"/>
<path d="M423.80,474.70L423.80,471.50M423.80,474.70L426.84,473.71M423.80,474.70L425.68,477.29M423.80,474.70L421.92,477.29M423.80,474.70L420.76,473.71" stroke="#000" stroke-width="1.7" stroke-linecap="butt" fill="none"/>
<line x1="333.00" y1="430.00" x2="349.50" y2="430.00" stroke="#000" stroke-width="1.7"/>
<polygon points="336.30,425.80 340.10,429.60 336.30,433.40 332.50,429.60" fill="#3a3a3a" stroke="#000" stroke-width="1.5"/>
<polygon points="339.60,424.60 343.40,428.40 339.60,432.20 335.80,428.40" fill="#3a3a3a" stroke="#000" stroke-width="1.5"/>
<polygon points="341.20,427.80 345.00,431.60 341.20,435.40 337.40,431.60" fill="#3a3a3a" stroke="#000" stroke-width="1.5"/>
<polygon points="344.00,424.80 347.80,428.60 344.00,432.40 340.20,428.60" fill="#3a3a3a" stroke="#000" stroke-width="1.5"/>
<polygon points="345.60,427.20 349.40,431.00 345.60,434.80 341.80,431.00" fill="#3a3a3a" stroke="#000" stroke-width="1.5"/>
<line x1="355.80" y1="434.90" x2="371.60" y2="434.90" stroke="#000" stroke-width="1.7"/>
<polygon points="363.70,426.80 367.50,430.60 363.70,434.40 359.90,430.60" fill="#f0f0f0" stroke="#000" stroke-width="1.6"/>
<polygon points="358.60,430.70 362.40,434.50 358.60,438.30 354.80,434.50" fill="#f0f0f0" stroke="#000" stroke-width="1.6"/>
<polygon points="365.40,431.60 369.20,435.40 365.40,439.20 361.60,435.40" fill="#f0f0f0" stroke="#000" stroke-width="1.6"/>
<polygon points="368.90,435.00 372.70,438.80 368.90,442.60 365.10,438.80" fill="#f0f0f0" stroke="#000" stroke-width="1.6"/>
<polygon points="362.90,436.80 366.70,440.60 362.90,444.40 359.10,440.60" fill="#f0f0f0" stroke="#000" stroke-width="1.6"/>
<line x1="378.00" y1="430.50" x2="395.00" y2="430.50" stroke="#000" stroke-width="1.7"/>
<polygon points="381.60,424.40 385.40,428.20 381.60,432.00 377.80,428.20" fill="#444" stroke="#000" stroke-width="1.5"/>
<polygon points="386.00,422.80 389.80,426.60 386.00,430.40 382.20,426.60" fill="#444" stroke="#000" stroke-width="1.5"/>
<polygon points="388.60,424.80 392.40,428.60 388.60,432.40 384.80,428.60" fill="#444" stroke="#000" stroke-width="1.5"/>
<polygon points="392.00,425.60 395.80,429.40 392.00,433.20 388.20,429.40" fill="#444" stroke="#000" stroke-width="1.5"/>
<polygon points="385.80,433.40 389.60,437.20 385.80,441.00 382.00,437.20" fill="#444" stroke="#000" stroke-width="1.5"/>
<line x1="400.50" y1="430.80" x2="417.00" y2="430.80" stroke="#000" stroke-width="1.7"/>
<polygon points="403.00,426.80 406.80,430.60 403.00,434.40 399.20,430.60" fill="#222" stroke="#000" stroke-width="1.5"/>
<polygon points="406.00,425.80 409.80,429.60 406.00,433.40 402.20,429.60" fill="#222" stroke="#000" stroke-width="1.5"/>
<polygon points="409.00,427.60 412.80,431.40 409.00,435.20 405.20,431.40" fill="#222" stroke="#000" stroke-width="1.5"/>
<polygon points="411.80,426.00 415.60,429.80 411.80,433.60 408.00,429.80" fill="#222" stroke="#000" stroke-width="1.5"/>
<polygon points="414.20,427.20 418.00,431.00 414.20,434.80 410.40,431.00" fill="#222" stroke="#000" stroke-width="1.5"/>
<circle cx="426.30" cy="443.90" r="3.0" fill="#333" stroke="#000" stroke-width="1.5"/>
<circle cx="427.00" cy="438.40" r="3.0" fill="#fff" stroke="#000" stroke-width="1.5"/>
<circle cx="431.90" cy="438.40" r="3.0" fill="#fff" stroke="#000" stroke-width="1.5"/>
<circle cx="436.00" cy="450.20" r="3.0" fill="#fff" stroke="#000" stroke-width="1.5"/>
<circle cx="431.20" cy="452.60" r="3.0" fill="#fff" stroke="#000" stroke-width="1.5"/>
<line x1="423.50" y1="443.90" x2="439.90" y2="443.90" stroke="#000" stroke-width="1.8"/>
<circle cx="452.80" cy="462.80" r="3.0" fill="#fff" stroke="#000" stroke-width="1.5"/>
<circle cx="449.20" cy="458.70" r="3.0" fill="#333" stroke="#000" stroke-width="1.5"/>
<circle cx="454.30" cy="457.90" r="3.0" fill="#444" stroke="#000" stroke-width="1.5"/>
<circle cx="458.90" cy="463.70" r="3.0" fill="#fff" stroke="#000" stroke-width="1.5"/>
<circle cx="454.30" cy="468.00" r="3.0" fill="#fff" stroke="#000" stroke-width="1.5"/>
<line x1="447.00" y1="459.60" x2="462.60" y2="459.60" stroke="#000" stroke-width="1.8"/>
<circle cx="474.80" cy="433.80" r="3.0" fill="#4a4a4a" stroke="#000" stroke-width="1.5"/>
<circle cx="479.60" cy="435.40" r="3.0" fill="#4a4a4a" stroke="#000" stroke-width="1.5"/>
<circle cx="471.30" cy="437.60" r="3.0" fill="#4a4a4a" stroke="#000" stroke-width="1.5"/>
<circle cx="482.40" cy="437.60" r="3.0" fill="#4a4a4a" stroke="#000" stroke-width="1.5"/>
<circle cx="476.90" cy="439.60" r="3.0" fill="#4a4a4a" stroke="#000" stroke-width="1.5"/>
<line x1="470.00" y1="436.60" x2="485.00" y2="436.60" stroke="#000" stroke-width="1.7"/>
<circle cx="499.40" cy="482.40" r="3.0" fill="#000" stroke="none" stroke-width="1.0"/>
<circle cx="499.40" cy="495.70" r="3.0" fill="#000" stroke="none" stroke-width="1.0"/>
<circle cx="493.90" cy="499.40" r="3.0" fill="#000" stroke="none" stroke-width="1.0"/>
<circle cx="503.90" cy="503.60" r="3.0" fill="#000" stroke="none" stroke-width="1.0"/>
<circle cx="499.40" cy="507.60" r="3.0" fill="#000" stroke="none" stroke-width="1.0"/>
<line x1="491.10" y1="499.40" x2="508.50" y2="499.40" stroke="#000" stroke-width="1.8"/>
</svg>
</body></html>
